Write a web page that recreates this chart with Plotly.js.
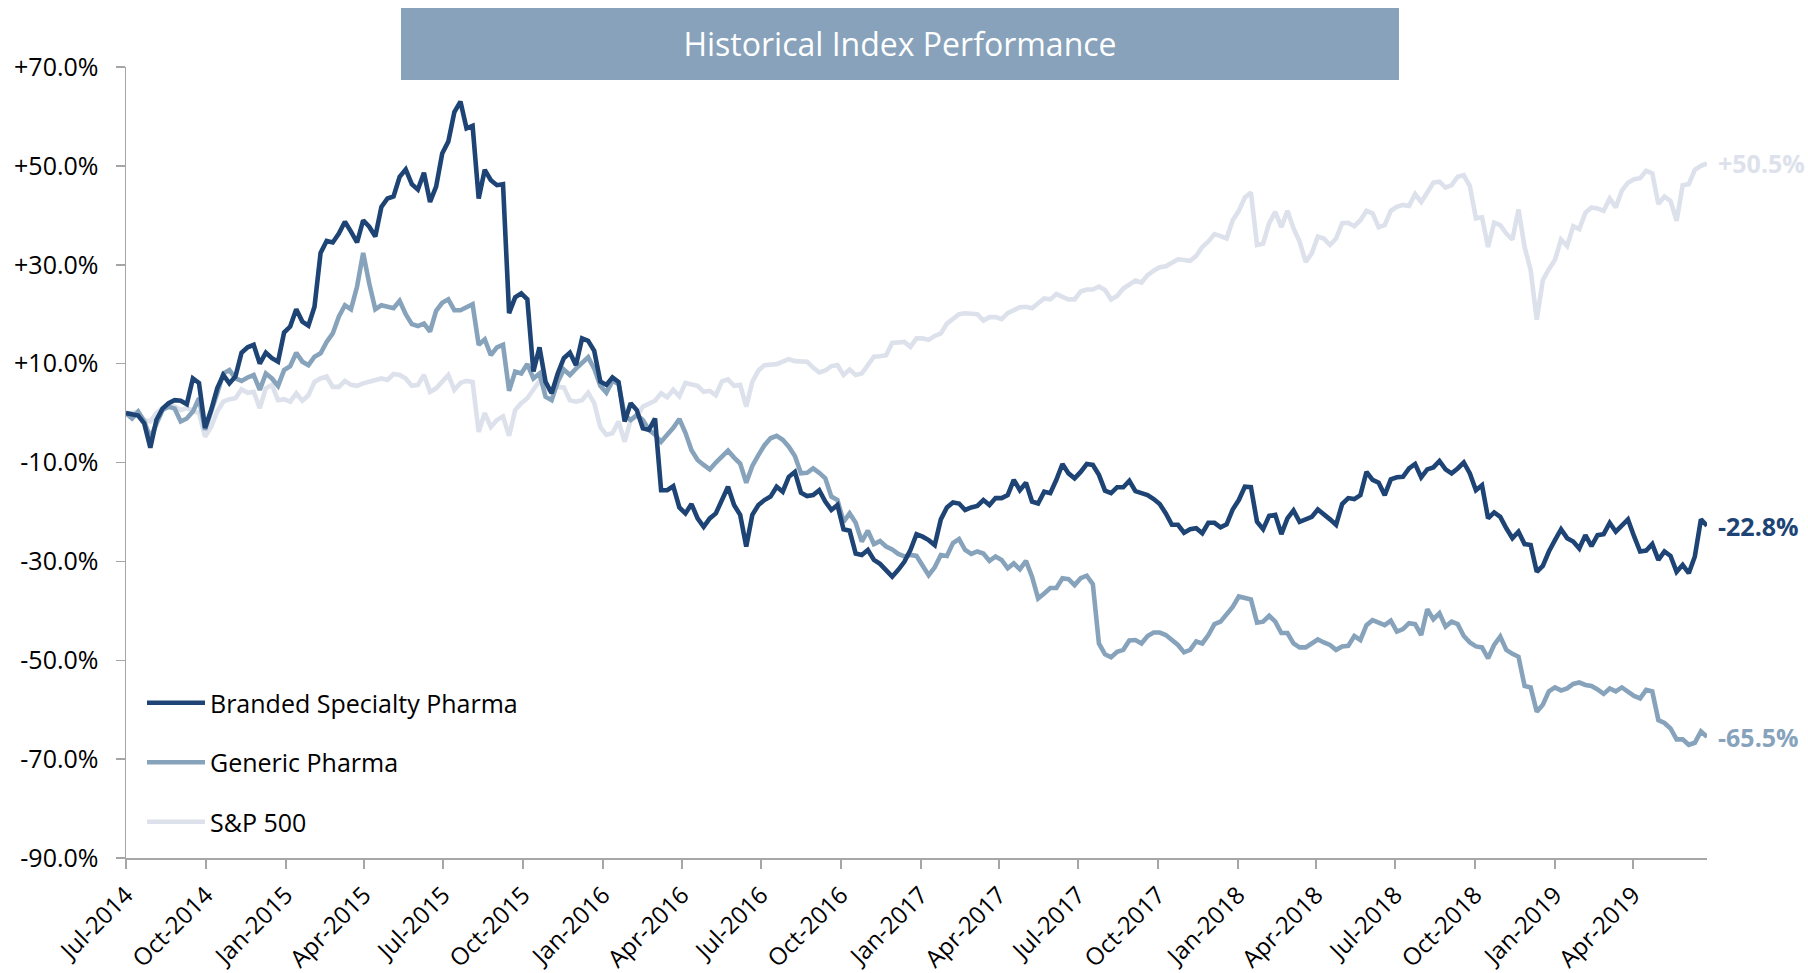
<!DOCTYPE html>
<html>
<head>
<meta charset="utf-8">
<script src="https://cdn.plot.ly/plotly-3.0.1.min.js"></script>
<style>
  html, body { margin: 0; padding: 0; background: #ffffff; }
  #chart { width: 1808px; height: 973px; }
</style>
</head>
<body>
<div id="chart"></div>
<script>
// ---- Data (weekly observations, % change since start) ----
const startDate = '2014-07-01';
const weekCount = 261;

const seriesNames = ['Branded Specialty Pharma', 'Generic Pharma', 'S&P 500'];

const branded = [
  0, -0.3, -0.5, -2.1, -7, -1.4, 0.9, 2, 2.6, 2.5,
  1.8, 7, 6.1, -3, 0.6, 5, 7.7, 6, 7.4, 12.2,
  13.3, 13.8, 10, 12.2, 11.1, 10.4, 16.3, 17.5, 21, 18.5,
  17.7, 21.5, 32.4, 34.8, 34.5, 36.3, 38.7, 36.7, 34.5, 39,
  37.7, 35.7, 41.7, 43.4, 43.8, 47.8, 49.3, 46.3, 45.2, 48.6,
  42.7, 45.8, 52.5, 54.9, 60.9, 63, 57.6, 58.1, 43.4, 49.2,
  47.1, 46.1, 46.3, 20.2, 23.4, 24.2, 23, 8.4, 13.3, 6.3,
  4, 8, 11.1, 12.2, 9.7, 15.1, 14.6, 12.6, 6.4, 5.7,
  7.2, 6.3, -1.7, 2, 0.6, -3.1, -3.4, -1.1, -15.6, -15.6,
  -14.8, -19.1, -20.3, -18.4, -21.3, -23, -21.3, -20.3, -17.6, -14.9,
  -18.6, -20.6, -27, -20.6, -18.6, -17.6, -16.9, -14.9, -15.9, -12.9,
  -11.9, -16.1, -16.8, -16.6, -15.6, -17.9, -19.6, -18.6, -23.5, -23.8,
  -28.4, -28.7, -27.7, -29.7, -30.5, -31.7, -33.1, -31.7, -30.1, -27.7,
  -24.5, -25, -25.7, -26.7, -21.5, -19.1, -18.1, -18.3, -19.6, -19.1,
  -18.8, -17.6, -18.6, -17.2, -17.2, -16.6, -13.5, -15.6, -14.1, -17.9,
  -18.3, -15.9, -16.2, -13.5, -10.3, -12.2, -13.2, -11.9, -10.3, -10.5,
  -12.5, -15.7, -16.2, -15, -15, -13.7, -15.8, -16.2, -16.6, -17.4,
  -18.4, -20.3, -22.6, -22.6, -24.2, -23.5, -23.3, -24.3, -22.2, -22.2,
  -23.1, -22.5, -19.5, -17.6, -14.9, -15, -22, -23.5, -20.8, -20.6,
  -24.5, -21.3, -19.7, -22, -21.5, -21, -19.5, -20.4, -21.5, -22.6,
  -18.4, -17.2, -17.4, -16.6, -11.9, -13.5, -14.1, -16.6, -13.4, -13,
  -12.9, -11.2, -10.3, -13, -11.4, -11, -9.7, -11.4, -12.2, -11.2,
  -10, -12.2, -15.6, -14.6, -21.3, -20.1, -21, -23.3, -25.3, -24,
  -26.5, -26.7, -32.1, -30.9, -28, -25.7, -23.5, -25.3, -26, -27.4,
  -24.7, -26.9, -24.7, -24.5, -22.2, -24, -22.6, -21.5, -24.9, -28,
  -27.8, -26.5, -29.7, -28, -28.9, -32.1, -30.7, -32.4, -29, -21.5,
  -22.8
];

const generic = [
  0, -1.1, 0.3, -1.7, -5, -2.1, 0.6, 1.3, 0.9, -1.7,
  -1.1, 0.3, 3, -3.4, 0, 4, 8, 8.7, 7, 6.5,
  7.2, 7.7, 4.7, 8, 7, 5.5, 8.7, 9.5, 12.2, 10.4,
  9.7, 11.4, 12.1, 14.4, 16.1, 19.5, 21.8, 21, 25.6, 32.4,
  26.2, 21, 21.8, 21.4, 21.2, 22.7, 20, 18, 17.6, 18.1,
  16.5, 20.7, 22.3, 23, 20.8, 20.8, 21.4, 22, 13.8, 14.9,
  11.7, 13.3, 13.8, 4.5, 8.4, 8, 9.9, 7, 8, 3.3,
  2.6, 6.3, 8.8, 7.7, 9, 10.2, 11.3, 9, 5.5, 4.1,
  6.5, 5.9, -0.4, -1.4, -0.4, -1.4, -3.4, -4.4, -5.8, -4.4,
  -3, -1.2, -4, -7.5, -9.5, -10.5, -11.4, -10, -8.7, -7.6,
  -9, -10.2, -14.1, -10.7, -8.5, -6.5, -5.1, -4.6, -5.4, -6.8,
  -8.7, -12.2, -12.1, -11.2, -12.1, -13.2, -16.9, -17.6, -22, -20.3,
  -22.2, -26, -23.8, -26.5, -25.9, -27, -27.6, -28.5, -29, -28.7,
  -28.9, -30.7, -32.8, -31.2, -28.7, -28.9, -26.3, -25.5, -27.7, -28.5,
  -28, -28.4, -29.9, -29, -29.7, -31.4, -30.4, -31.6, -29.9, -33.1,
  -37.5, -36.5, -35.4, -35.4, -33.4, -33.6, -34.8, -33.4, -32.9, -34.6,
  -46.6, -48.8, -49.4, -48.3, -47.9, -46, -45.9, -46.6, -45.1, -44.4,
  -44.4, -44.9, -45.8, -46.9, -48.4, -47.9, -46.2, -46.6, -44.9, -42.7,
  -42.2, -40.8, -39.2, -37.1, -37.5, -37.7, -42.4, -42.2, -41, -42.2,
  -44.5, -44.5, -46.6, -47.4, -47.4, -46.6, -45.8, -46.4, -46.9, -47.9,
  -47.2, -47.1, -45.1, -45.9, -42.9, -41.9, -42.4, -42.9, -42, -44.2,
  -43.7, -42.5, -42.7, -44.9, -39.7, -41.7, -40.5, -43.2, -42.2, -42.7,
  -45.1, -46.4, -47.2, -47.4, -49.6, -46.9, -45.2, -47.9, -48.7, -49.3,
  -55.2, -55.5, -60.4, -59, -56.3, -55.5, -56.1, -55.7, -54.8, -54.5,
  -55, -55.2, -55.9, -56.8, -55.7, -56.3, -55.5, -56.3, -57.2, -57.7,
  -56, -56.3, -62.1, -62.7, -63.8, -66, -66, -67.1, -66.7, -64.4,
  -65.5
];

const sp500 = [
  0, 0, 0.3, -1.4, -1.7, 0, 1, 1.3, 1.3, 0.6,
  1, 0.6, 0, -4.8, -2.8, 0.3, 2.3, 2.8, 3, 4.8,
  4.1, 4.3, 1, 5, 5.7, 2.6, 2.8, 2.3, 4, 2.5,
  3.6, 6.3, 7, 7.4, 5.3, 5.3, 6.5, 5.7, 5.5, 6,
  6.3, 6.7, 7, 6.7, 7.9, 7.7, 7, 5.5, 5.7, 7.7,
  4.3, 5, 6.3, 7.7, 4.7, 6.1, 6.5, 6.3, -3.8, 0,
  -2.8, -1.4, -0.7, -4.6, 0.6, 2, 3, 4.7, 6.5, 5,
  4.3, 5.3, 5.2, 2.6, 2.3, 2.6, 4.1, 2, -2.8, -4.4,
  -4.1, -1.7, -5.8, -1.4, -0.7, 1.3, 2, 2.5, 4, 3.2,
  4.7, 3.4, 6.1, 5.9, 5.5, 4.3, 4.5, 3.6, 6.4, 6.8,
  5.5, 5.7, 1.3, 6.3, 8.6, 9.7, 9.7, 9.9, 10.4, 10.9,
  10.5, 10.4, 10.4, 9.2, 8.2, 8.6, 9.5, 9.7, 7.7, 8.8,
  7.7, 8, 9.7, 11.4, 11.5, 11.7, 14.2, 14.4, 14.4, 13.4,
  15.1, 15.1, 14.8, 15.6, 16.1, 18.1, 19.2, 20, 20.2, 20.2,
  20, 18.7, 19.4, 19.4, 19, 20.2, 20.8, 21.4, 21.5, 21.2,
  22.2, 23.2, 23, 24.1, 23.5, 23, 23, 24.6, 25, 25,
  25.6, 24.9, 23, 23.7, 25.2, 26.1, 26.8, 26.4, 27.9, 28.8,
  29.5, 29.7, 30.4, 31.1, 30.95, 30.8, 31.8, 33.6, 34.7, 36.2,
  35.8, 35.3, 39, 40.9, 43.6, 44.6, 34, 34.3, 38.4, 40.7,
  37.6, 40.9, 37.4, 34.7, 30.6, 32.3, 35.7, 35.3, 34, 35.3,
  38.4, 38.5, 37.8, 39, 40.9, 40.4, 37.6, 38, 40.9, 41.7,
  42.1, 41.9, 44.3, 42.7, 44.6, 46.6, 46.8, 45.6, 46.1, 47.8,
  48.1, 45.9, 39.4, 39.6, 33.6, 38.5, 38, 36.3, 35.1, 41.2,
  33.6, 28.9, 18.9, 26.9, 29.1, 31, 35.1, 33.8, 37.8, 37.2,
  40.5, 41.6, 41.4, 40.9, 43.4, 41.6, 45, 46.6, 47.3, 47.5,
  49, 48.5, 42.3, 43.8, 42.9, 38.9, 46.1, 46.3, 49.2, 50,
  50.5
];

const yTickVals = [-90, -70, -50, -30, -10, 10, 30, 50, 70];
const yTickLabels = ['-90.0%', '-70.0%', '-50.0%', '-30.0%', '-10.0%', '+10.0%', '+30.0%', '+50.0%', '+70.0%'];
const xRange = ['2014-07-01', '2019-06-25'];
const chartTitle = 'Historical Index Performance';

// ---- Build weekly dates ----
const dates = [];
(function () {
  const d0 = new Date(startDate + 'T00:00:00Z');
  for (let i = 0; i < weekCount; i++) {
    const d = new Date(d0.getTime() + i * 7 * 86400000);
    dates.push(d.toISOString().slice(0, 10));
  }
})();

// ---- Styling ----
const FONT = 'Open Sans, Noto Sans, sans-serif';
const colors = ['#1D4474', '#87A3BC', '#DCE1EB'];
const seriesData = [branded, generic, sp500];

const W = 1808, H = 973;
const M = { l: 126, r: 101, t: 67, b: 115 };
const plotW = W - M.l - M.r, plotH = H - M.t - M.b;
const px2paperX = px => (px - M.l) / plotW;
const px2paperY = py => (H - M.b - py) / plotH;

// draw S&P first (behind), Branded last (on top); legend order via legendrank
const drawOrder = [2, 1, 0];
const traces = drawOrder.map(k => ({
  type: 'scatter',
  mode: 'lines',
  x: dates,
  y: seriesData[k],
  name: seriesNames[k],
  legendgroup: 'g' + k,
  legendrank: k + 1,
  line: { color: colors[k], width: 4.6 },
  hoverinfo: 'x+y+name'
}));

const fmtEnd = v => (v > 0 ? '+' : '') + v.toFixed(1) + '%';
const annotations = [0, 1, 2].map(k => {
  const arr = seriesData[k];
  return {
    x: dates[dates.length - 1],
    y: arr[arr.length - 1],
    xref: 'x', yref: 'y',
    text: '<b>' + fmtEnd(arr[arr.length - 1]) + '</b>',
    showarrow: false,
    xanchor: 'left',
    yanchor: 'middle',
    xshift: 9,
    font: { family: FONT, size: 25, color: colors[k] }
  };
});

const layout = {
  width: W, height: H,
  margin: M,
  paper_bgcolor: '#ffffff',
  plot_bgcolor: '#ffffff',
  font: { family: FONT, color: '#000000' },
  title: {
    text: chartTitle,
    font: { family: FONT, size: 32, color: '#ffffff' },
    x: 900 / W, xanchor: 'center', xref: 'container',
    y: 1 - 45 / H, yanchor: 'middle', yref: 'container'
  },
  shapes: [{
    type: 'rect', xref: 'paper', yref: 'paper',
    x0: px2paperX(401), x1: px2paperX(1399),
    y0: px2paperY(80), y1: px2paperY(8),
    fillcolor: '#87A2BA', line: { width: 0 }, layer: 'above'
  }],
  xaxis: {
    type: 'date',
    range: xRange,
    tickformat: '%b-%Y',
    dtick: 'M3',
    tick0: '2014-07-01',
    tickangle: -45,
    ticks: 'outside', ticklen: 9, tickwidth: 1.5, tickcolor: '#A6A6A6',
    ticklabelstandoff: 3,
    showline: true, linecolor: '#A6A6A6', linewidth: 1.5,
    showgrid: false, zeroline: false,
    tickfont: { family: FONT, size: 24, color: '#000000' }
  },
  yaxis: {
    range: [-90, 70],
    tickmode: 'array',
    tickvals: yTickVals,
    ticktext: yTickLabels,
    ticks: 'outside', ticklen: 9, tickwidth: 1.5, tickcolor: '#A6A6A6',
    ticklabelstandoff: 12,
    showline: true, linecolor: '#A6A6A6', linewidth: 1.5,
    showgrid: false, zeroline: false,
    tickfont: { family: FONT, size: 25, color: '#000000' }
  },
  showlegend: true,
  legend: {
    x: px2paperX(142), xanchor: 'left',
    y: px2paperY(680), yanchor: 'top',
    bgcolor: 'rgba(0,0,0,0)',
    font: { family: FONT, size: 25, color: '#000000' },
    tracegroupgap: 24,
    itemwidth: 58,
    traceorder: 'grouped'
  },
  annotations: annotations
};

Plotly.newPlot('chart', traces, layout, { displayModeBar: false, staticPlot: true });
</script>
</body>
</html>
